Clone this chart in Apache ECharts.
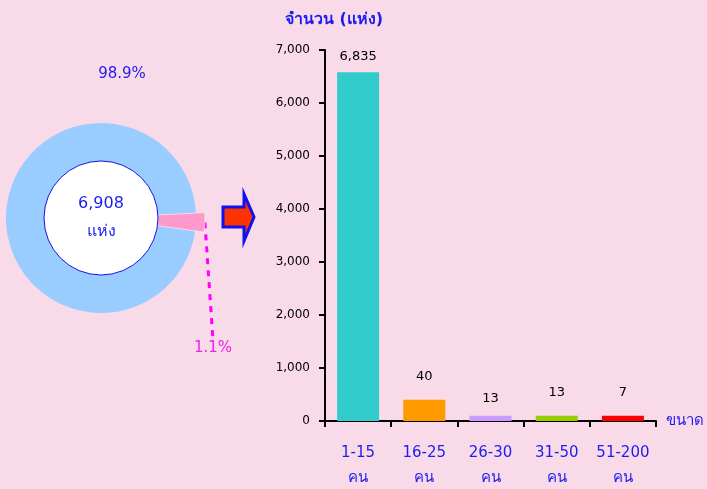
<!DOCTYPE html>
<html>
<head>
<meta charset="utf-8">
<script src="https://cdn.jsdelivr.net/npm/echarts@6/dist/echarts.min.js"></script>
<style>
html,body{margin:0;padding:0;background:#F9DAE8;}
#main{width:707px;height:489px;}
</style>
</head>
<body>
<div id="main"></div>
<script>
// ---- data ----
const categories = ['1-15\nคน', '16-25\nคน', '26-30\nคน', '31-50\nคน', '51-200\nคน'];
const barHeights = [6580, 400, 100, 100, 100];          // bar heights as drawn
const barLabels = ['6,835', '40', '13', '13', '7'];     // value labels as printed
const pieNames = ['16-200 คน', '1-15 คน'];
const pieShares = [3, 97];                               // slice sizes as drawn
const pieLabels = ['1.1%', '98.9%'];
const centerLines = ['6,908', 'แห่ง'];
const yAxisName = 'จำนวน (แห่ง)';
const xAxisName = 'ขนาด';

// ---- styles ----
const FONT = 'Tahoma, "DejaVu Sans", "Noto Sans", sans-serif';
const BLUE = '#1C1CF0';
const barColors = ['#33CCCC', '#FF9900', '#CC99FF', '#99CC00', '#FF0000'];
const labelGaps = [9, 17, 11, 17, 17];
const pieColors = ['#FF99CC', '#99CCFF'];
const labelPos = [{x: 213, y: 348, color: '#EE22EE', pos: 'outside'}, {x: 122, y: 74, color: BLUE, pos: 'inside'}];

const chart = echarts.init(document.getElementById('main'), null, {renderer: 'canvas'});

function pieLayer(showIdx, outer) {
  return {
    type: 'pie',
    center: [101, 218],
    radius: [57, outer],
    startAngle: 3,
    clockwise: true,
    silent: true,
    animation: false,
    avoidLabelOverlap: false,
    data: pieShares.map((v, i) => ({
      name: pieNames[i],
      value: v,
      itemStyle: {color: i === showIdx ? pieColors[i] : 'rgba(0,0,0,0)',
                  borderColor: i === showIdx && i === 0 ? '#FFFFFF' : 'rgba(0,0,0,0)', borderWidth: i === 0 ? 0.5 : 0},
      label: {
        show: i === showIdx,
        position: labelPos[i].pos,
        formatter: pieLabels[i],
        color: labelPos[i].color,
        fontFamily: FONT,
        fontSize: 15
      },
      labelLine: {
        show: i === showIdx && i === 0,
        length: 2,
        length2: 0,
        smooth: false,
        lineStyle: {color: '#FF00FF', width: 3, type: [6, 6]}
      }
    })),
    labelLayout: function (p) {
      return {x: labelPos[p.dataIndex].x, y: labelPos[p.dataIndex].y, align: 'center', verticalAlign: 'middle'};
    }
  };
}

const option = {
  backgroundColor: '#F9DAE8',
  animation: false,
  grid: {left: 325, right: 51, top: 50, bottom: 68, containLabel: false, outerBoundsMode: 'none'},
  xAxis: {
    type: 'category',
    data: categories,
    name: xAxisName,
    nameLocation: 'end',
    nameGap: 10,
    nameTextStyle: {color: BLUE, fontFamily: FONT, fontSize: 15, verticalAlign: 'middle', align: 'left'},
    boundaryGap: true,
    axisLine: {lineStyle: {color: '#000', width: 2}},
    axisTick: {show: true, alignWithLabel: false, length: 6, lineStyle: {color: '#000', width: 2}},
    axisLabel: {color: BLUE, fontFamily: FONT, fontSize: 15, lineHeight: 25, margin: 20, interval: 0}
  },
  yAxis: {
    type: 'value',
    min: 0, max: 7000, interval: 1000,
    name: yAxisName,
    nameLocation: 'end',
    nameGap: 22,
    nameTextStyle: {color: BLUE, fontFamily: FONT, fontSize: 16, fontWeight: 'bold', padding: [0, 0, 0, 18]},
    axisLine: {show: true, lineStyle: {color: '#000', width: 2}},
    axisTick: {show: true, length: 6, lineStyle: {color: '#000', width: 2}},
    splitLine: {show: false},
    axisLabel: {
      color: '#000', fontFamily: FONT, fontSize: 12, margin: 15,
      formatter: v => v.toLocaleString('en-US')
    }
  },
  series: [
    {
      type: 'bar',
      barWidth: 42,
      silent: true,
      data: barHeights.map((v, i) => ({
        value: v,
        itemStyle: {color: barColors[i]},
        label: {
          show: true, position: 'top', distance: labelGaps[i],
          formatter: barLabels[i], color: '#000', fontFamily: FONT, fontSize: 13
        }
      }))
    },
    pieLayer(1, 95),
    pieLayer(0, 104),
    {
      type: 'pie',
      center: [101, 218],
      radius: [0, 57],
      silent: true,
      animation: false,
      data: [{value: 1, name: 'total', itemStyle: {color: '#FFFFFF', borderColor: '#1010E0', borderWidth: 1}}],
      label: {
        show: true, position: 'center',
        formatter: centerLines.join('\n'),
        color: BLUE, fontFamily: FONT, fontSize: 16, lineHeight: 28,
        padding: [4, 0, 0, 0]
      },
      labelLine: {show: false}
    }
  ],
  graphic: [
    {
      type: 'polygon',
      silent: true,
      shape: {points: [[223, 207], [244, 207], [244, 194], [254, 217], [244, 241], [244, 227], [223, 227]]},
      style: {fill: '#FF3300', stroke: '#1010F0', lineWidth: 3}
    }
  ]
};
chart.setOption(option);
</script>
</body>
</html>
